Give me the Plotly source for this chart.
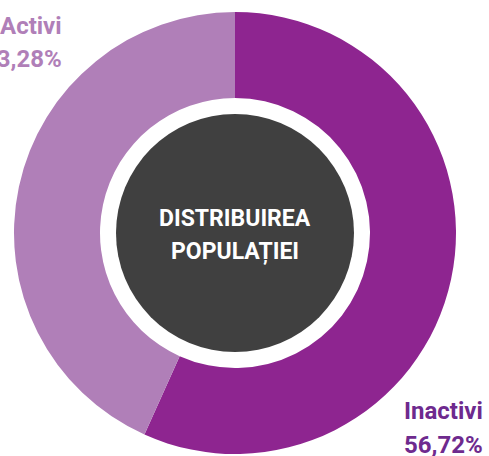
import plotly.graph_objects as go

labels = ["Inactivi", "Activi"]
values = [56.72, 43.28]
value_text = ["56,72%", "43,28%"]
center_lines = ["DISTRIBUIREA", "POPULAȚIEI"]

W, H = 489, 456
cx, cy, R = 235, 233, 221
hole_r = 135
dark_r = 119

fig = go.Figure()
fig.add_trace(go.Pie(
    labels=labels, values=values, sort=False, direction="clockwise", rotation=0,
    hole=hole_r / R, textinfo="none", hoverinfo="label+percent",
    marker=dict(colors=["#8E2590", "#B07FB8"], line=dict(width=0)),
    domain=dict(x=[(cx - R) / W, (cx + R) / W], y=[(H - cy - R) / H, (H - cy + R) / H]),
    showlegend=False,
))

fig.add_shape(type="circle", xref="paper", yref="paper",
              x0=(cx - dark_r) / W, x1=(cx + dark_r) / W,
              y0=(H - cy - dark_r) / H, y1=(H - cy + dark_r) / H,
              fillcolor="#404040", line=dict(width=0))

cfont = dict(family="Roboto", size=23, color="white", weight=700)
for txt, ypx in zip(center_lines, [218, 252]):
    fig.add_annotation(text=txt, xref="paper", yref="paper", x=cx / W, y=(H - ypx) / H,
                       yanchor="middle", showarrow=False, font=cfont)

def add_label(name, val, xr, y1, y2, color):
    f = dict(family="Roboto", size=24, color=color, weight=700)
    for txt, ypx in ((name, y1), (val, y2)):
        fig.add_annotation(text=txt, xref="paper", yref="paper", x=xr / W, y=(H - ypx) / H,
                           xanchor="right", yanchor="middle", showarrow=False, font=f)

add_label(labels[1], value_text[1], 64, 26, 59, "#B07FB8")
add_label(labels[0], value_text[0], 485, 411, 445, "#6E2A8E")

fig.update_layout(width=W, height=H, margin=dict(l=0, r=0, t=0, b=0),
                  paper_bgcolor="white", plot_bgcolor="white")
fig.write_html("out.html", config={"displayModeBar": False},
               post_script="document.body.style.margin='0';document.body.style.overflow='hidden';")
